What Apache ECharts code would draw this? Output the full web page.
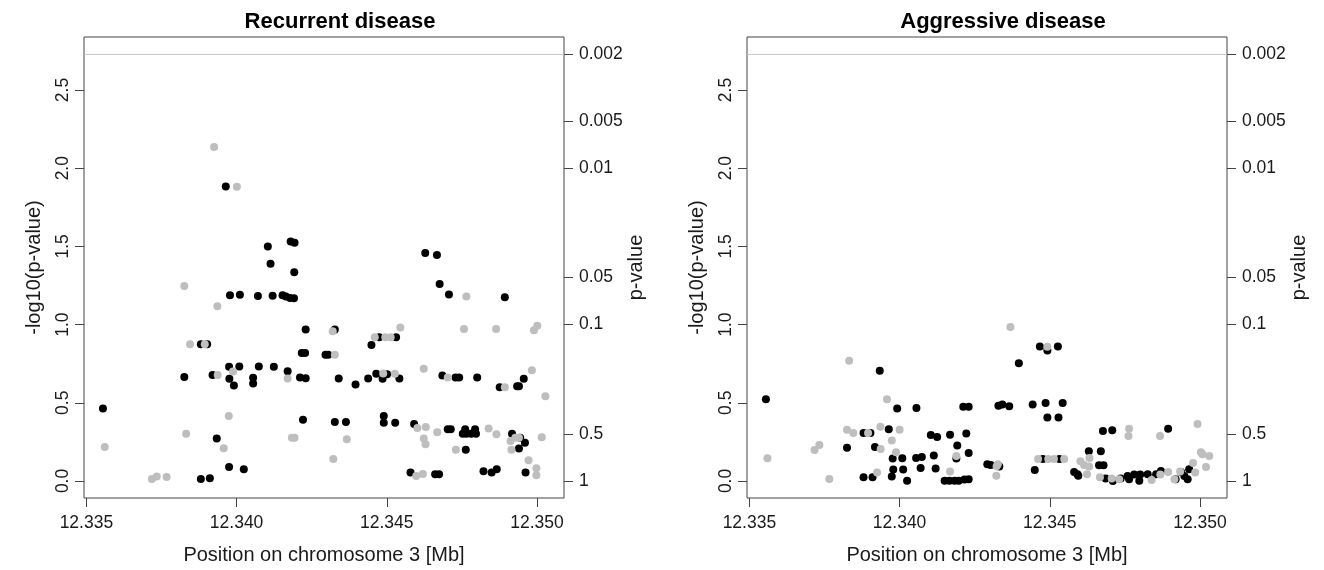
<!DOCTYPE html>
<html>
  <head>
    <meta charset="utf-8">
    <title>Recurrent and aggressive disease</title>
    <script src="https://cdn.jsdelivr.net/npm/echarts@6/dist/echarts.min.js"></script>
  </head>
  <style media="screen">
    html,body,#chart {
      margin:0;
      padding: 0;
      width: 1324px;
      height: 570px;
      background: #fff;
    }
  </style>
  <body>
    <div id="chart"></div>

    <script type="text/javascript">
      // [position (Mb), -log10(p)] ; black and grey are the two SNP groups
      var recurrentBlack = [
        [12.33555,0.464],[12.33826,0.664],[12.33881,0.874],[12.33902,0.874],
        [12.33881,0.013],[12.33911,0.017],[12.33920,0.677],[12.33934,0.272],
        [12.33964,1.883],[12.33975,0.089],[12.33978,1.187],[12.33975,0.730],
        [12.33976,0.653],[12.33991,0.611],[12.34011,1.191],[12.34009,0.732],
        [12.34024,0.075],[12.34055,0.660],[12.34055,0.623],[12.34071,1.183],
        [12.34074,0.732],[12.34104,1.500],[12.34113,1.389],[12.34120,1.185],
        [12.34124,0.730],[12.34153,1.187],[12.34164,1.179],[12.34178,1.170],
        [12.34191,1.168],[12.34170,0.702],[12.34180,1.532],[12.34193,1.523],
        [12.34192,1.334],[12.34221,0.392],[12.34230,0.968],[12.34217,0.819],
        [12.34228,0.819],[12.34211,0.662],[12.34230,0.657],[12.34296,0.807],
        [12.34305,0.807],[12.34327,0.968],[12.34340,0.655],[12.34327,0.377],
        [12.34364,0.377],[12.34396,0.617],[12.34438,0.655],[12.34449,0.870],
        [12.34475,0.919],[12.34531,0.919],[12.34465,0.685],[12.34486,0.653],
        [12.34501,0.683],[12.34542,0.655],[12.34490,0.415],[12.34490,0.373],
        [12.34528,0.373],[12.34591,0.364],[12.34579,0.054],[12.34661,0.043],
        [12.34674,0.043],[12.34628,1.458],[12.34667,1.445],[12.34676,1.260],
        [12.34707,1.193],[12.34685,0.675],[12.34729,0.662],[12.34741,0.662],
        [12.34801,0.662],[12.34703,0.330],[12.34713,0.330],[12.34761,0.330],
        [12.34753,0.302],[12.34765,0.302],[12.34781,0.302],[12.34794,0.330],
        [12.34797,0.302],[12.34763,0.200],[12.34822,0.062],[12.34849,0.054],
        [12.34866,0.075],[12.34893,1.174],[12.34876,0.600],[12.34934,0.606],
        [12.34940,0.606],[12.34956,0.653],[12.34917,0.302],[12.34944,0.277],
        [12.34960,0.245],[12.34940,0.207],[12.34962,0.054]
      ];
      var recurrentGrey = [
        [12.33561,0.217],[12.33718,0.013],[12.33734,0.028],[12.33767,0.026],
        [12.33826,1.247],[12.33832,0.302],[12.33845,0.874],[12.33894,0.874],
        [12.33937,0.677],[12.33936,1.117],[12.33957,0.209],[12.33974,0.415],
        [12.33988,0.700],[12.33925,2.136],[12.34001,1.881],[12.34170,0.655],
        [12.34184,0.277],[12.34193,0.277],[12.34320,0.957],[12.34327,0.807],
        [12.34322,0.140],[12.34367,0.266],[12.34545,0.981],[12.34460,0.919],
        [12.34495,0.919],[12.34513,0.919],[12.34488,0.687],[12.34527,0.685],
        [12.34623,0.717],[12.34602,0.338],[12.34630,0.345],[12.34623,0.272],
        [12.34629,0.234],[12.34668,0.311],[12.34730,0.200],[12.34598,0.032],
        [12.34620,0.045],[12.34703,0.662],[12.34765,1.179],[12.34757,0.972],
        [12.34864,0.972],[12.34990,0.964],[12.35001,0.992],[12.34983,0.708],
        [12.34893,0.600],[12.35028,0.542],[12.34839,0.336],[12.34865,0.298],
        [12.34912,0.255],[12.34928,0.277],[12.34940,0.277],[12.34915,0.200],
        [12.35016,0.279],[12.34972,0.132],[12.34998,0.081],[12.34998,0.036]
      ];
      var aggressiveBlack = [
        [12.33555,0.523],[12.33825,0.213],[12.33880,0.306],[12.33903,0.306],
        [12.33880,0.024],[12.33910,0.024],[12.33934,0.705],[12.33918,0.217],
        [12.33964,0.330],[12.33992,0.464],[12.33977,0.143],[12.34009,0.145],
        [12.33979,0.073],[12.34012,0.073],[12.33974,0.028],[12.34025,0.002],
        [12.34056,0.466],[12.34055,0.147],[12.34074,0.153],[12.34070,0.083],
        [12.34104,0.294],[12.34125,0.281],[12.34114,0.162],[12.34120,0.079],
        [12.34150,0.002],[12.34166,0.002],[12.34183,0.002],[12.34197,0.002],
        [12.34168,0.296],[12.34192,0.226],[12.34189,0.143],[12.34222,0.304],
        [12.34230,0.179],[12.34216,0.009],[12.34230,0.011],[12.34212,0.475],
        [12.34230,0.475],[12.34292,0.107],[12.34303,0.102],[12.34332,0.092],
        [12.34329,0.481],[12.34342,0.489],[12.34365,0.477],[12.34397,0.753],
        [12.34443,0.489],[12.34450,0.070],[12.34467,0.860],[12.34492,0.834],
        [12.34527,0.860],[12.34486,0.498],[12.34543,0.498],[12.34492,0.405],
        [12.34529,0.405],[12.34477,0.140],[12.34532,0.140],[12.34581,0.057],
        [12.34592,0.043],[12.34595,0.034],[12.34630,0.190],[12.34670,0.190],
        [12.34664,0.100],[12.34679,0.100],[12.34677,0.319],[12.34708,0.325],
        [12.34686,0.015],[12.34710,0.000],[12.34736,0.015],[12.34759,0.032],
        [12.34764,0.011],[12.34781,0.041],[12.34798,0.002],[12.34801,0.041],
        [12.34826,0.043],[12.34854,0.043],[12.34870,0.064],[12.34894,0.334],
        [12.34919,0.011],[12.34937,0.057],[12.34948,0.032],[12.34959,0.011],
        [12.34964,0.075]
      ];
      var aggressiveGrey = [
        [12.33560,0.145],[12.33717,0.198],[12.33733,0.230],[12.33766,0.013],
        [12.33832,0.768],[12.33825,0.328],[12.33846,0.306],[12.33895,0.306],
        [12.33925,0.054],[12.33937,0.204],[12.33936,0.347],[12.33958,0.523],
        [12.33974,0.258],[12.33988,0.183],[12.34000,0.328],[12.34189,0.160],
        [12.34168,0.060],[12.34327,0.107],[12.34323,0.094],[12.34322,0.034],
        [12.34369,0.985],[12.34492,0.858],[12.34461,0.140],[12.34495,0.140],
        [12.34514,0.140],[12.34548,0.140],[12.34602,0.126],[12.34614,0.102],
        [12.34631,0.092],[12.34632,0.147],[12.34624,0.043],[12.34667,0.024],
        [12.34706,0.015],[12.34731,0.011],[12.34764,0.334],[12.34762,0.287],
        [12.34867,0.287],[12.34839,0.006],[12.34868,0.041],[12.34894,0.057],
        [12.34915,0.011],[12.34934,0.060],[12.34977,0.115],[12.34984,0.054],
        [12.34992,0.364],[12.35003,0.184],[12.35008,0.170],[12.35031,0.160],
        [12.35020,0.089]
      ];

      var panelTitles = ['Recurrent disease', 'Aggressive disease'];
      var xTicks = [12.335, 12.340, 12.345, 12.350];
      var yTicks = [0, 0.5, 1, 1.5, 2, 2.5];
      var thresholdP = 0.00186;            // significance line, shown as 0.002
      var pTicks = [1, 0.5, 0.1, 0.05, 0.01, 0.005, thresholdP];

      var threshold = -Math.log10(thresholdP);
      var pTickPos = pTicks.map(function (p) { return -Math.log10(p); });

      var font = '"Liberation Sans", Arial, sans-serif';
      var ink = '#1a1a1a';
      var frame = '#444';
      var lefts = [84, 747];

      var grids = [], xAxes = [], yAxes = [], series = [], graphics = [];
      var panels = [[recurrentBlack, recurrentGrey], [aggressiveBlack, aggressiveGrey]];

      panels.forEach(function (pan, i) {
        grids.push({
          left: lefts[i], top: 37, width: 480, height: 461,
          show: true, borderColor: frame, borderWidth: 1
        });
        xAxes.push({
          gridIndex: i, type: 'value', min: 12.33492, max: 12.3509,
          axisLine: {show: false, onZero: false},
          axisTick: {length: 9, customValues: xTicks, lineStyle: {color: frame}},
          axisLabel: {
            customValues: xTicks, margin: 16, fontSize: 17.5, color: ink, fontFamily: font,
            formatter: function (v) { return v.toFixed(3); }
          },
          splitLine: {show: false},
          name: 'Position on chromosome 3 [Mb]', nameLocation: 'middle', nameGap: 47,
          nameTextStyle: {fontSize: 20, color: ink, fontFamily: font}
        });
        yAxes.push({
          gridIndex: i, type: 'value', min: -0.109, max: 2.839, position: 'left',
          axisLine: {show: false, onZero: false},
          axisTick: {length: 9, customValues: yTicks, lineStyle: {color: frame}},
          axisLabel: {
            customValues: yTicks, rotate: 90, margin: 12, fontSize: 17.5, color: ink, fontFamily: font,
            formatter: function (v) { return v.toFixed(1); }
          },
          splitLine: {show: false},
          name: '-log10(p-value)', nameLocation: 'middle', nameRotate: 90, nameGap: 40,
          nameTextStyle: {fontSize: 20, color: ink, fontFamily: font}
        });
        yAxes.push({
          gridIndex: i, type: 'value', min: -0.109, max: 2.839, position: 'right',
          axisLine: {show: false, onZero: false},
          axisTick: {length: 9, customValues: pTickPos, lineStyle: {color: frame}},
          axisLabel: {
            customValues: pTickPos, margin: 15, fontSize: 17.5, color: ink, fontFamily: font,
            formatter: function (v) { return String(Number(Math.pow(10, -v).toPrecision(1))); }
          },
          splitLine: {show: false},
          name: 'p-value', nameLocation: 'middle', nameRotate: 90, nameGap: 60,
          nameTextStyle: {fontSize: 20, color: ink, fontFamily: font}
        });
        series.push({
          type: 'scatter', xAxisIndex: i, yAxisIndex: 2 * i,
          data: pan[0], symbolSize: 8, itemStyle: {color: '#000', opacity: 1},
          markLine: {
            silent: true, symbol: 'none', label: {show: false},
            lineStyle: {color: '#c8c8c8', width: 1, type: 'solid'},
            data: [{yAxis: threshold}]
          }
        });
        series.push({
          type: 'scatter', xAxisIndex: i, yAxisIndex: 2 * i,
          data: pan[1], symbolSize: 8, itemStyle: {color: '#bebebe', opacity: 1}
        });
        graphics.push({
          type: 'text', x: lefts[i] + 256, y: 22,
          style: {
            text: panelTitles[i], font: 'bold 22px ' + font, fill: '#000',
            align: 'center', verticalAlign: 'middle'
          }
        });
      });

      var chart = echarts.init(document.getElementById('chart'));
      chart.setOption({
        animation: false,
        backgroundColor: '#fff',
        grid: grids,
        xAxis: xAxes,
        yAxis: yAxes,
        series: series,
        graphic: graphics
      });
    </script>
  </body>
</html>
